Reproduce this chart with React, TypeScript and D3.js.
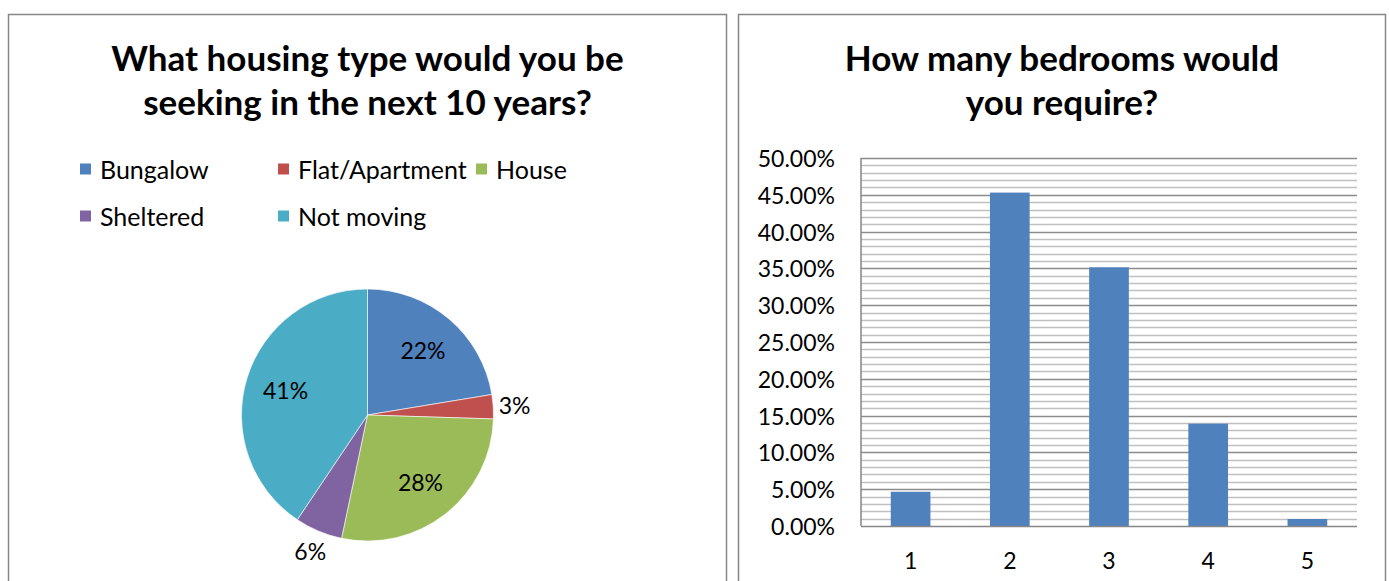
import React from "react";
import * as d3 from "d3";

const pieCategories = ["Bungalow", "Flat/Apartment", "House", "Sheltered", "Not moving"];
const pieValues = [22.4, 3.1, 27.8, 6.1, 40.6];
const pieColors = ["#4f81bd", "#c0504d", "#9bbb59", "#8064a2", "#4bacc6"];

const barCategories = ["1", "2", "3", "4", "5"];
const barValues = [4.65, 45.3, 35.15, 13.9, 0.95];
const yTicks = [0, 5, 10, 15, 20, 25, 30, 35, 40, 45, 50];

const FONT = "Lato, 'Open Sans', sans-serif";

export default function App() {
  // Pie
  const cx = 367.5, cy = 415, r = 126;
  const pie = d3.pie<number>().sort(null).value((d) => d)(pieValues);
  const arc = d3.arc<d3.PieArcDatum<number>>().innerRadius(0).outerRadius(r);
  const inLabel = d3.arc<d3.PieArcDatum<number>>().innerRadius(r * 0.68).outerRadius(r * 0.68);
  const outLabel = d3.arc<d3.PieArcDatum<number>>().innerRadius(r * 1.17).outerRadius(r * 1.17);
  const total = d3.sum(pieValues);

  // Bar
  const left = 861, right = 1357, top = 158, bottom = 526;
  const x = d3.scaleBand().domain(barCategories).range([left, right]).paddingInner(0.6).paddingOuter(0.3);
  const y = d3.scaleLinear().domain([0, 50]).range([bottom, top]);
  const minor = d3.range(1, 51).filter((v) => v % 5 !== 0);

  const legendPos = [
    [80, 169], [278, 169], [476, 169], [80, 216], [278, 216],
  ];

  return (
    <svg width={1389} height={581} style={{ position: "absolute", left: 0, top: 0, background: "#fff" }}>
      {/* panel borders */}
      <path d="M8.5,600 V14.5 H726.5 V600" fill="none" stroke="#868686" strokeWidth={1.5} />
      <path d="M738.5,600 V14.5 H1385.5 V600" fill="none" stroke="#868686" strokeWidth={1.5} />

      {/* Titles */}
      <g fontFamily={FONT} fontWeight="bold" fontSize={35} textAnchor="middle" fill="#000">
        <text x={367.5} y={71}>What housing type would you be</text>
        <text x={367.5} y={115}>seeking in the next 10 years?</text>
        <text x={1062} y={71}>How many bedrooms would</text>
        <text x={1062} y={115}>you require?</text>
      </g>

      {/* Legend */}
      <g fontFamily={FONT} fontSize={25} fill="#000">
        {pieCategories.map((c, i) => (
          <g key={c} transform={`translate(${legendPos[i][0]},${legendPos[i][1]})`}>
            <rect x={0} y={-5.5} width={11} height={11} fill={pieColors[i]} />
            <text x={20} y={0} dominantBaseline="central">{c}</text>
          </g>
        ))}
      </g>

      {/* Pie */}
      <g transform={`translate(${cx},${cy})`}>
        {pie.map((p, i) => (
          <path key={i} d={arc(p) || ""} fill={pieColors[i]} stroke="#ffffff" strokeWidth={0.6} />
        ))}
        <g fontFamily={FONT} fontSize={23} textAnchor="middle" fill="#000">
          {pie.map((p, i) => {
            const pos = pieValues[i] < 10 ? outLabel.centroid(p) : inLabel.centroid(p);
            return (
              <text key={i} x={pos[0]} y={pos[1]} dominantBaseline="central">
                {`${Math.round((pieValues[i] / total) * 100)}%`}
              </text>
            );
          })}
        </g>
      </g>

      {/* Bar gridlines */}
      <g>
        {minor.map((v) => (
          <line key={v} x1={left} x2={right} y1={Math.round(y(v)) + 0.5} y2={Math.round(y(v)) + 0.5} stroke="#c0c0c0" strokeWidth={1.5} />
        ))}
        {yTicks.slice(1).map((v) => (
          <line key={v} x1={left} x2={right} y1={Math.round(y(v)) + 0.5} y2={Math.round(y(v)) + 0.5} stroke="#8c8c8c" strokeWidth={1.5} />
        ))}
      </g>
      {/* bars */}
      {barValues.map((v, i) => (
        <rect key={i} x={x(barCategories[i])} y={y(v)} width={x.bandwidth()} height={bottom - y(v)} fill="#4f81bd" />
      ))}
      {/* axes */}
      <line x1={left} x2={left} y1={top} y2={bottom} stroke="#868686" strokeWidth={1.5} />
      <line x1={left} x2={right} y1={bottom + 0.5} y2={bottom + 0.5} stroke="#868686" strokeWidth={1.5} />
      <g fontFamily={FONT} fontSize={23} fill="#000">
        {yTicks.map((v) => (
          <text key={v} x={835} y={y(v)} textAnchor="end" dominantBaseline="central">
            {d3.format(".2f")(v) + "%"}
          </text>
        ))}
        {barCategories.map((c) => (
          <text key={c} x={(x(c) || 0) + x.bandwidth() / 2} y={560} textAnchor="middle" dominantBaseline="central">
            {c}
          </text>
        ))}
      </g>
    </svg>
  );
}
